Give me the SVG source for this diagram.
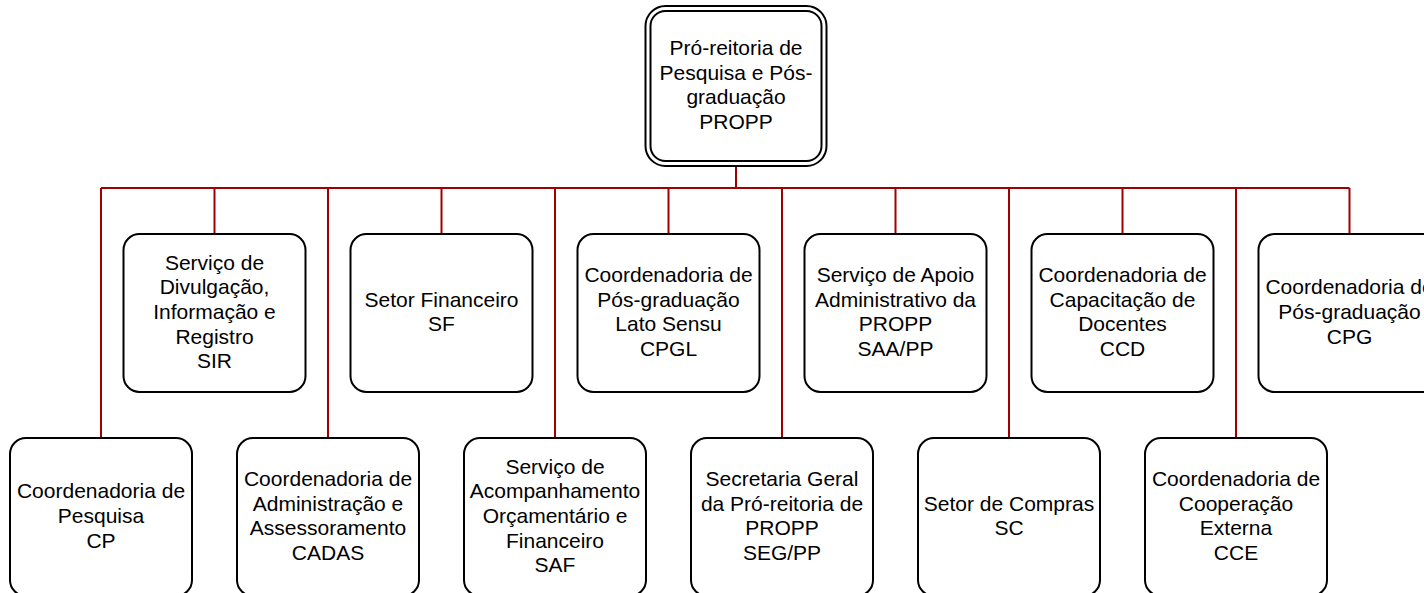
<svg xmlns="http://www.w3.org/2000/svg" width="1424" height="593" viewBox="0 0 1424 593">
<style>
.box{fill:#fff;stroke:#000;stroke-width:2}
.t{font-family:"Liberation Sans",Arial,sans-serif;font-size:21px;fill:#000;text-anchor:middle}
.c{fill:none;stroke:#A00000;stroke-width:2}
</style>
<rect width="1424" height="593" fill="#fff"/>
<g id="connectors">
<path class="c" d="M736,166V188M101,188H1349.5"/>
<path class="c" d="M101,188V438M214.5,188V234M328,188V438M441.5,188V234M555,188V438M668.5,188V234M782,188V438M895.5,188V234M1009,188V438M1122.5,188V234M1236,188V438M1349.5,188V234"/>
</g>
<g id="PROPP">
<rect class="box" x="645.5" y="6" width="181" height="160" rx="20"/>
<rect class="box" x="650.5" y="11" width="171" height="150" rx="15"/>
<text class="t" x="736" y="55"><tspan x="736">Pró-reitoria de</tspan><tspan x="736" dy="24.6">Pesquisa e Pós-</tspan><tspan x="736" dy="24.6">graduação</tspan><tspan x="736" dy="24.6">PROPP</tspan></text>
</g>
<g id="CP">
<rect class="box" x="10" y="438" width="182" height="158" rx="16"/>
<text class="t" x="101" y="498.4"><tspan x="101">Coordenadoria de</tspan><tspan x="101" dy="24.6">Pesquisa</tspan><tspan x="101" dy="24.6">CP</tspan></text>
</g>
<g id="SIR">
<rect class="box" x="123.5" y="234" width="182" height="158" rx="16"/>
<text class="t" x="214.5" y="269.8"><tspan x="214.5">Serviço de</tspan><tspan x="214.5" dy="24.6">Divulgação,</tspan><tspan x="214.5" dy="24.6">Informação e</tspan><tspan x="214.5" dy="24.6">Registro</tspan><tspan x="214.5" dy="24.6">SIR</tspan></text>
</g>
<g id="CADAS">
<rect class="box" x="237" y="438" width="182" height="158" rx="16"/>
<text class="t" x="328" y="486.1"><tspan x="328">Coordenadoria de</tspan><tspan x="328" dy="24.6">Administração e</tspan><tspan x="328" dy="24.6">Assessoramento</tspan><tspan x="328" dy="24.6">CADAS</tspan></text>
</g>
<g id="SF">
<rect class="box" x="350.5" y="234" width="182" height="158" rx="16"/>
<text class="t" x="441.5" y="306.7"><tspan x="441.5">Setor Financeiro</tspan><tspan x="441.5" dy="24.6">SF</tspan></text>
</g>
<g id="SAF">
<rect class="box" x="464" y="438" width="182" height="158" rx="16"/>
<text class="t" x="555" y="473.8"><tspan x="555">Serviço de</tspan><tspan x="555" dy="24.6">Acompanhamento</tspan><tspan x="555" dy="24.6">Orçamentário e</tspan><tspan x="555" dy="24.6">Financeiro</tspan><tspan x="555" dy="24.6">SAF</tspan></text>
</g>
<g id="CPGL">
<rect class="box" x="577.5" y="234" width="182" height="158" rx="16"/>
<text class="t" x="668.5" y="282.1"><tspan x="668.5">Coordenadoria de</tspan><tspan x="668.5" dy="24.6">Pós-graduação</tspan><tspan x="668.5" dy="24.6">Lato Sensu</tspan><tspan x="668.5" dy="24.6">CPGL</tspan></text>
</g>
<g id="SEG">
<rect class="box" x="691" y="438" width="182" height="158" rx="16"/>
<text class="t" x="782" y="486.1"><tspan x="782">Secretaria Geral</tspan><tspan x="782" dy="24.6">da Pró-reitoria de</tspan><tspan x="782" dy="24.6">PROPP</tspan><tspan x="782" dy="24.6">SEG/PP</tspan></text>
</g>
<g id="SAA">
<rect class="box" x="804.5" y="234" width="182" height="158" rx="16"/>
<text class="t" x="895.5" y="282.1"><tspan x="895.5">Serviço de Apoio</tspan><tspan x="895.5" dy="24.6">Administrativo da</tspan><tspan x="895.5" dy="24.6">PROPP</tspan><tspan x="895.5" dy="24.6">SAA/PP</tspan></text>
</g>
<g id="SC">
<rect class="box" x="918" y="438" width="182" height="158" rx="16"/>
<text class="t" x="1009" y="510.7"><tspan x="1009">Setor de Compras</tspan><tspan x="1009" dy="24.6">SC</tspan></text>
</g>
<g id="CCD">
<rect class="box" x="1031.5" y="234" width="182" height="158" rx="16"/>
<text class="t" x="1122.5" y="282.1"><tspan x="1122.5">Coordenadoria de</tspan><tspan x="1122.5" dy="24.6">Capacitação de</tspan><tspan x="1122.5" dy="24.6">Docentes</tspan><tspan x="1122.5" dy="24.6">CCD</tspan></text>
</g>
<g id="CCE">
<rect class="box" x="1145" y="438" width="182" height="158" rx="16"/>
<text class="t" x="1236" y="486.1"><tspan x="1236">Coordenadoria de</tspan><tspan x="1236" dy="24.6">Cooperação</tspan><tspan x="1236" dy="24.6">Externa</tspan><tspan x="1236" dy="24.6">CCE</tspan></text>
</g>
<g id="CPG">
<rect class="box" x="1258.5" y="234" width="182" height="158" rx="16"/>
<text class="t" x="1349.5" y="294.4"><tspan x="1349.5">Coordenadoria de</tspan><tspan x="1349.5" dy="24.6">Pós-graduação</tspan><tspan x="1349.5" dy="24.6">CPG</tspan></text>
</g>
</svg>
